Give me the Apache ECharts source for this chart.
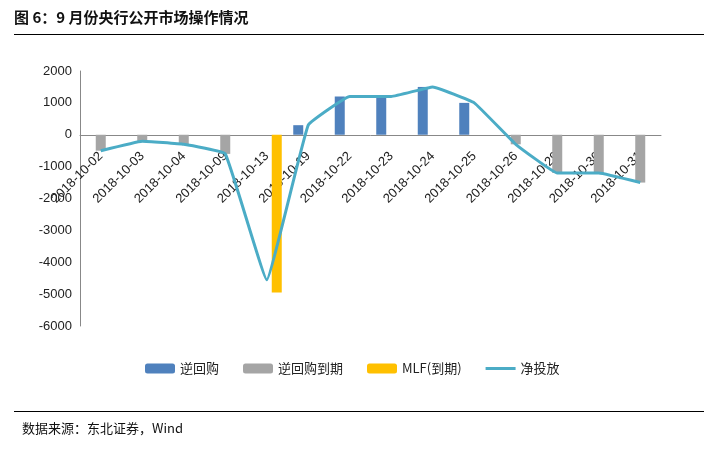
<!DOCTYPE html><html><head><meta charset="utf-8"><script src="https://cdn.jsdelivr.net/npm/echarts@6/dist/echarts.min.js"></script>
<style>body{margin:0;background:#fff}#t{position:absolute;left:14px;top:6px;font:bold 15px "Noto Sans CJK SC";color:#111}
#l1{position:absolute;left:14px;top:34px;width:690px;border-top:1px solid #000}
#l2{position:absolute;left:14px;top:411px;width:690px;border-top:1px solid #000}
#s{position:absolute;left:22px;top:418px;font:13px "Noto Sans CJK SC";color:#111}
#c{position:absolute;left:0;top:0;width:719px;height:451px}</style></head><body>
<div id="c"></div><div id="t">图 6：9 月份央行公开市场操作情况</div><div id="l1"></div><div id="l2"></div><div id="s">数据来源：东北证券，Wind</div>
<script>
const categories=['2018-10-02','2018-10-03','2018-10-04','2018-10-09','2018-10-13','2018-10-19','2018-10-22','2018-10-23','2018-10-24','2018-10-25','2018-10-26','2018-10-29','2018-10-30','2018-10-31'];
const reverseRepo=[null,null,null,null,null,300,1200,1200,1500,1000,null,null,null,null];
const repoMaturity=[-500,-200,-300,-600,null,null,null,null,null,null,-300,-1200,-1200,-1500];
const mlf=[null,null,null,null,-4950,null,null,null,null,null,null,null,null,null];
const netInjection=[-500,-200,-300,-600,-4550,300,1200,1200,1500,1000,-300,-1200,-1200,-1500];
const ch=echarts.init(document.getElementById('c'));
ch.setOption({animation:false,
grid:{left:80,right:58,top:71,bottom:125},
legend:{top:357,left:140,itemWidth:30,itemHeight:10,itemGap:24,textStyle:{fontSize:13,color:'#222',fontFamily:'Noto Sans CJK SC'},
data:['逆回购','逆回购到期','MLF(到期)',{name:'净投放',icon:'path://M0,0H10V1H0Z'}]},
xAxis:{type:'category',data:categories,axisTick:{show:false},axisLine:{onZero:true,lineStyle:{color:'#888'}},
axisLabel:{rotate:45,interval:0,fontSize:13,color:'#222',margin:-172,fontFamily:'Liberation Sans'}},
yAxis:{type:'value',min:-6000,max:2000,interval:1000,splitLine:{show:false},axisLine:{show:true,lineStyle:{color:'#888'}},
axisLabel:{fontSize:13,color:'#222',fontFamily:'Liberation Sans',formatter:v=>String(v)}},
series:[
{name:'逆回购',type:'bar',data:reverseRepo,barWidth:10,barGap:'0%',itemStyle:{color:'#4f81bd'}},
{name:'逆回购到期',type:'bar',data:repoMaturity,barWidth:10,itemStyle:{color:'#a5a5a5'}},
{name:'MLF(到期)',type:'bar',data:mlf,barWidth:10,itemStyle:{color:'#ffc000'}},
{name:'净投放',type:'line',data:netInjection,smooth:0.08,symbol:'none',lineStyle:{color:'#4bacc6',width:3},itemStyle:{color:'#4bacc6'}}]});
</script></body></html>
